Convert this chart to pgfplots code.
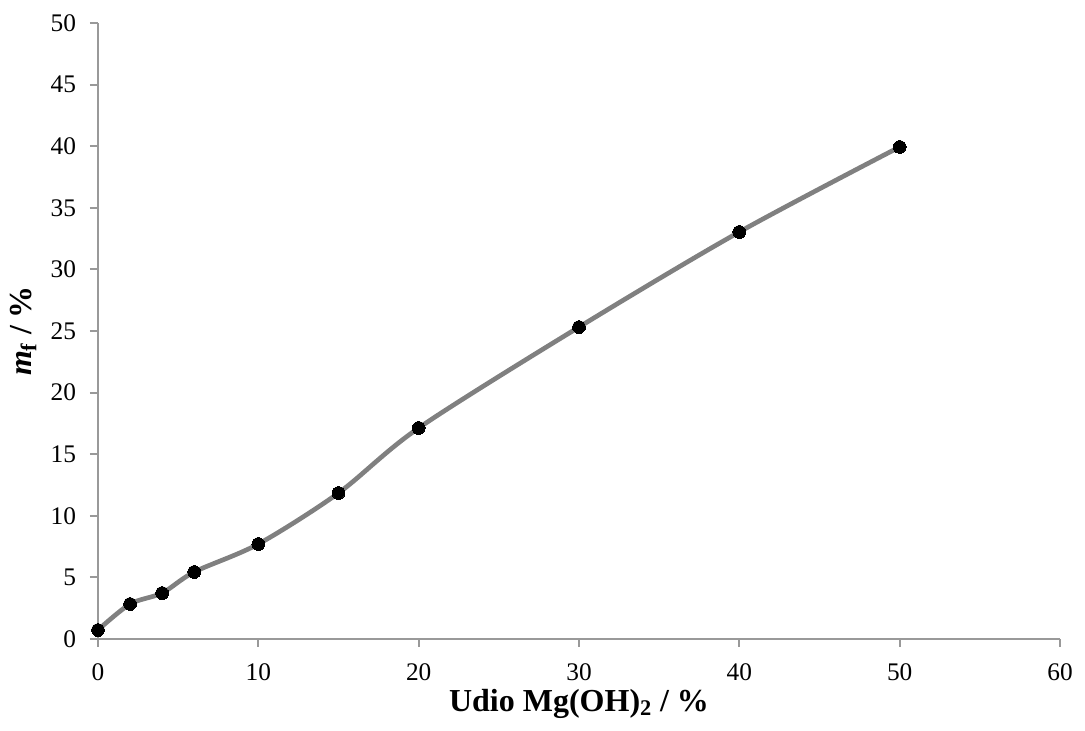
\documentclass[border=0pt]{standalone}
\usepackage{pgfplots}
\pgfplotsset{compat=1.18}
\usepackage{fontspec}
\setmainfont{Liberation Serif}
\begin{document}
\begin{tikzpicture}
\useasboundingbox (-73.5pt,-69pt) rectangle (740.25pt,479.25pt);
\begin{axis}[
  at={(0,0)}, anchor=origin,
  scale only axis, width=721.5pt, height=462pt,
  xmin=0, xmax=60, ymin=0, ymax=50,
  xtick={0,10,...,60}, ytick={0,5,...,50},
  axis x line*=bottom, axis y line*=left,
  axis line style={draw=gray!80, line width=1.4pt, -},
  tick style={draw=gray!80, line width=1.4pt},
  tick align=outside, major tick length=6pt,
  tick label style={font=\fontsize{19}{22}\selectfont},
  xticklabel style={yshift=-9pt},
  yticklabel style={xshift=-7pt},
  /pgf/number format/assume math mode=true,
  xlabel={\textbf{Udio Mg(OH)\textsubscript{2} / \%}},
  ylabel={\textbf{\textit{m}\textsubscript{f} / \%}},
  label style={font=\fontsize{24}{28}\selectfont},
  xlabel style={at={(axis description cs:0.5,0)}, anchor=base, yshift=-54pt},
  ylabel style={at={(axis description cs:0,0.5)}, anchor=center, yshift=56pt},
  clip=false,
]
\addplot[draw=gray, line width=3.5pt, smooth, tension=0.5, mark=*, mark size=4.8pt, mark options={draw=black, fill=black, line width=0pt}]
coordinates {(0,0.73) (2,2.84) (4,3.73) (6,5.44) (10,7.71) (15,11.85) (20,17.13) (30,25.32) (40,33.04) (50,39.94)};
\end{axis}
\end{tikzpicture}
\end{document}
